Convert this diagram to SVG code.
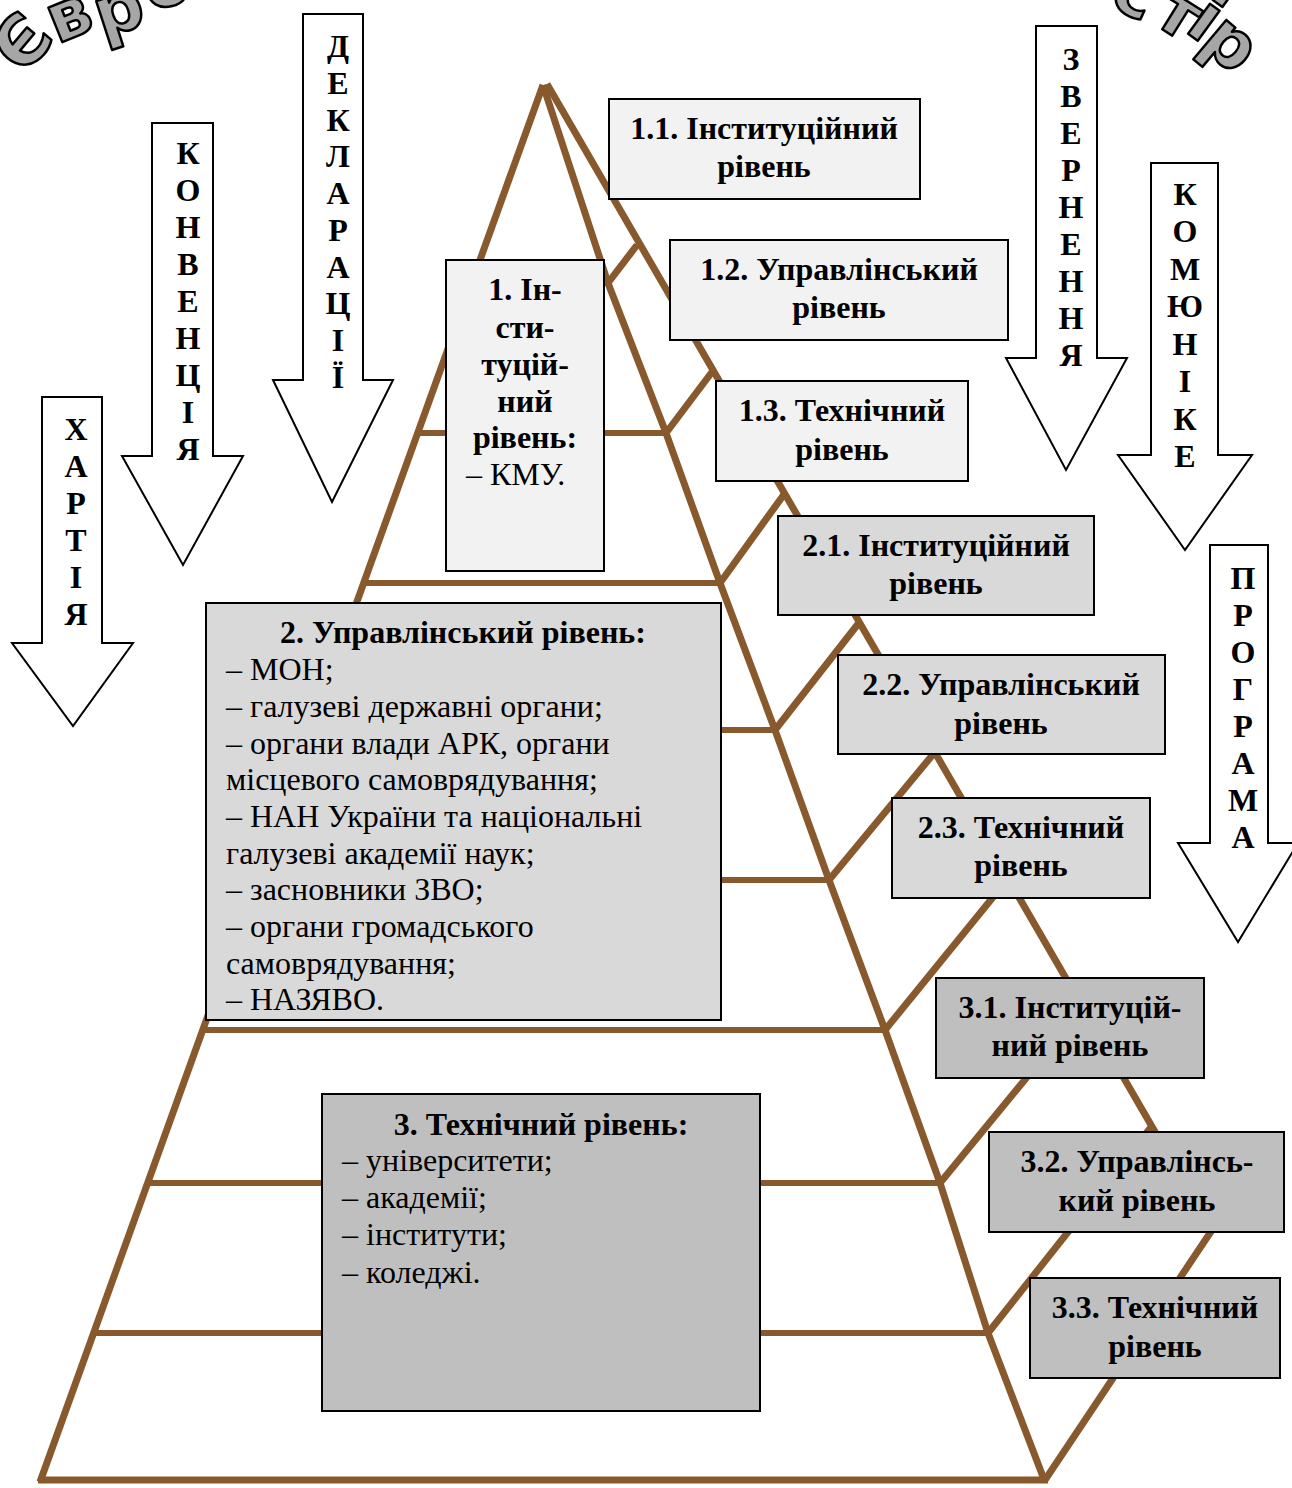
<svg xmlns="http://www.w3.org/2000/svg" width="1292" height="1488" viewBox="0 0 1292 1488">
<style>
.beam{stroke:#87592c;stroke-width:7;fill:none;stroke-linecap:butt;stroke-linejoin:miter}
.hbeam{stroke:#87592c;stroke-width:6;fill:none}
.arrow{fill:#fff;stroke:#000;stroke-width:2}
.box{stroke:#000;stroke-width:2}
.l1{fill:#f2f2f2}.l2{fill:#d9d9d9}.l3{fill:#bfbfbf}
.t{font-family:"Liberation Serif","Times New Roman",serif;font-size:32px;fill:#000}
.b{font-weight:bold}
.c{text-anchor:middle}
.wa{font-family:"DejaVu Sans","Liberation Sans",sans-serif;font-weight:bold;font-size:68px;fill:#a6a6a6;stroke:#000;stroke-width:2.5;stroke-linejoin:round;text-anchor:middle}
</style>
<rect width="1292" height="1488" fill="#fff"/>
<g id="title">
<text class="wa" transform="translate(22,42) rotate(-50)" y="24">Є</text>
<text class="wa" transform="translate(68,14) rotate(-22)" y="24">в</text>
<text class="wa" transform="translate(118,8) rotate(-18)" y="24">р</text>
<text class="wa" transform="translate(166,-18) rotate(-12)" y="24">о</text>
<text class="wa" transform="translate(1136,-8) rotate(25)" y="24">с</text>
<text class="wa" transform="translate(1180,12) rotate(32)" y="24">т</text>
<text class="wa" transform="translate(1207,18) rotate(36)" y="24">і</text>
<text class="wa" transform="translate(1232,42) rotate(40)" y="24">р</text>
</g>
<g id="connectors">
<g id="pyramid">
<line class="hbeam" x1="472" y1="283" x2="608" y2="283"/>
<line class="hbeam" x1="418" y1="433" x2="666" y2="433"/>
<line class="hbeam" x1="364" y1="583" x2="720" y2="583"/>
<line class="hbeam" x1="311" y1="730" x2="775" y2="730"/>
<line class="hbeam" x1="257" y1="880" x2="829" y2="880"/>
<line class="hbeam" x1="203" y1="1030" x2="885" y2="1030"/>
<line class="hbeam" x1="148" y1="1183" x2="940" y2="1183"/>
<line class="hbeam" x1="94" y1="1333" x2="988" y2="1333"/>
<line class="beam" x1="608" y1="283" x2="637" y2="245"/>
<line class="beam" x1="666" y1="433" x2="712" y2="372"/>
<line class="beam" x1="720" y1="583" x2="785" y2="493"/>
<line class="beam" x1="775" y1="730" x2="858" y2="624"/>
<line class="beam" x1="829" y1="880" x2="935" y2="752"/>
<line class="beam" x1="885" y1="1030" x2="1007" y2="880"/>
<line class="beam" x1="940" y1="1183" x2="1083" y2="1009"/>
<line class="beam" x1="988" y1="1333" x2="1152" y2="1126"/>
<line class="beam" x1="1045" y1="1480" x2="1212" y2="1230"/>
<line class="beam" x1="547" y1="84" x2="1212" y2="1230"/>
<line class="beam" x1="543" y1="85" x2="40" y2="1482"/>
<polyline class="beam" points="543,85 608,283 666,433 720,583 775,730 829,880 885,1030 940,1183 988,1333 1045,1482"/>
<line class="beam" x1="38" y1="1480" x2="1048" y2="1480"/>
</g>
</g>
<g id="arrow-hartiya">
<polygon class="arrow" points="42,397 102,397 102,643 133,643 73,726 12,643 42,643"/>
<g class="t b c"><text x="76" y="440">Х</text><text x="76" y="477">А</text><text x="76" y="514">Р</text><text x="76" y="551">Т</text><text x="76" y="588">І</text><text x="76" y="625">Я</text></g>
</g>
<g id="arrow-konventsiya">
<polygon class="arrow" points="152,123 213,123 213,456 243,456 183,565 122,456 152,456"/>
<g class="t b c"><text x="188" y="164">К</text><text x="188" y="201">О</text><text x="188" y="238">Н</text><text x="188" y="275">В</text><text x="188" y="312">Е</text><text x="188" y="349">Н</text><text x="188" y="386">Ц</text><text x="188" y="423">І</text><text x="188" y="460">Я</text></g>
</g>
<g id="arrow-deklaratsii">
<polygon class="arrow" points="303,14 363,14 363,380 393,380 332,502 273,380 303,380"/>
<g class="t b c"><text x="338" y="57">Д</text><text x="338" y="94">Е</text><text x="338" y="131">К</text><text x="338" y="167">Л</text><text x="338" y="204">А</text><text x="338" y="241">Р</text><text x="338" y="278">А</text><text x="338" y="314">Ц</text><text x="338" y="351">І</text><text x="338" y="388">Ї</text></g>
</g>
<g id="arrow-zvernennya">
<polygon class="arrow" points="1036,26 1097,26 1097,358 1127,358 1066,470 1006,358 1036,358"/>
<g class="t b c"><text x="1071" y="70">З</text><text x="1071" y="107">В</text><text x="1071" y="144">Е</text><text x="1071" y="181">Р</text><text x="1071" y="218">Н</text><text x="1071" y="255">Е</text><text x="1071" y="292">Н</text><text x="1071" y="329">Н</text><text x="1071" y="366">Я</text></g>
</g>
<g id="arrow-komyunike">
<polygon class="arrow" points="1151,163 1218,163 1218,455 1252,455 1185,550 1118,455 1151,455"/>
<g class="t b c"><text x="1185" y="205">К</text><text x="1185" y="242">О</text><text x="1185" y="280">М</text><text x="1185" y="317">Ю</text><text x="1185" y="355">Н</text><text x="1185" y="392">І</text><text x="1185" y="430">К</text><text x="1185" y="467">Е</text></g>
</g>
<g id="arrow-prohrama">
<polygon class="arrow" points="1210,545 1268,545 1268,843 1298,843 1238,942 1178,843 1210,843"/>
<g class="t b c"><text x="1243" y="589">П</text><text x="1243" y="626">Р</text><text x="1243" y="663">О</text><text x="1243" y="700">Г</text><text x="1243" y="737">Р</text><text x="1243" y="774">А</text><text x="1243" y="811">М</text><text x="1243" y="848">А</text></g>
</g>
<g id="box-1">
<rect class="box l1" x="446" y="260" width="158" height="311"/>
<g class="t b c"><text x="525" y="300">1. Ін-</text><text x="525" y="338">сти-</text><text x="525" y="375">туцій-</text><text x="525" y="412">ний</text><text x="525" y="448">рівень:</text></g>
<text class="t" x="466" y="485">– КМУ.</text>
</g>
<g id="box-2">
<rect class="box l2" x="206" y="603" width="515" height="417"/>
<text class="t b c" x="463" y="643">2. Управлінський рівень:</text>
<g class="t"><text x="226" y="680">– МОН;</text><text x="226" y="717">– галузеві державні органи;</text><text x="226" y="754">– органи влади АРК, органи</text><text x="226" y="790">місцевого самоврядування;</text><text x="226" y="827">– НАН України та національні</text><text x="226" y="864">галузеві академії наук;</text><text x="226" y="900">– засновники ЗВО;</text><text x="226" y="937">– органи громадського</text><text x="226" y="974">самоврядування;</text><text x="226" y="1010">– НАЗЯВО.</text></g>
</g>
<g id="box-3">
<rect class="box l3" x="322" y="1094" width="438" height="317"/>
<text class="t b c" x="541" y="1135">3. Технічний рівень:</text>
<g class="t"><text x="342" y="1171">– університети;</text><text x="342" y="1208">– академії;</text><text x="342" y="1245">– інститути;</text><text x="342" y="1283">– коледжі.</text></g>
</g>
<g id="box-1-1"><rect class="box l1" x="609" y="99" width="311" height="100"/><g class="t b c"><text x="764" y="139">1.1. Інституційний</text><text x="764" y="177">рівень</text></g></g>
<g id="box-1-2"><rect class="box l1" x="670" y="240" width="338" height="100"/><g class="t b c"><text x="839" y="280">1.2. Управлінський</text><text x="839" y="318">рівень</text></g></g>
<g id="box-1-3"><rect class="box l1" x="716" y="381" width="252" height="100"/><g class="t b c"><text x="842" y="421">1.3. Технічний</text><text x="842" y="460">рівень</text></g></g>
<g id="box-2-1"><rect class="box l2" x="778" y="516" width="316" height="99"/><g class="t b c"><text x="936" y="556">2.1. Інституційний</text><text x="936" y="594">рівень</text></g></g>
<g id="box-2-2"><rect class="box l2" x="838" y="655" width="327" height="99"/><g class="t b c"><text x="1001" y="695">2.2. Управлінський</text><text x="1001" y="734">рівень</text></g></g>
<g id="box-2-3"><rect class="box l2" x="892" y="798" width="258" height="100"/><g class="t b c"><text x="1021" y="838">2.3. Технічний</text><text x="1021" y="876">рівень</text></g></g>
<g id="box-3-1"><rect class="box l3" x="936" y="978" width="268" height="100"/><g class="t b c"><text x="1070" y="1018">3.1. Інституцій-</text><text x="1070" y="1056">ний рівень</text></g></g>
<g id="box-3-2"><rect class="box l3" x="989" y="1132" width="295" height="100"/><g class="t b c"><text x="1137" y="1172">3.2. Управлінсь-</text><text x="1137" y="1211">кий рівень</text></g></g>
<g id="box-3-3"><rect class="box l3" x="1030" y="1278" width="250" height="100"/><g class="t b c"><text x="1155" y="1318">3.3. Технічний</text><text x="1155" y="1357">рівень</text></g></g>
</svg>
